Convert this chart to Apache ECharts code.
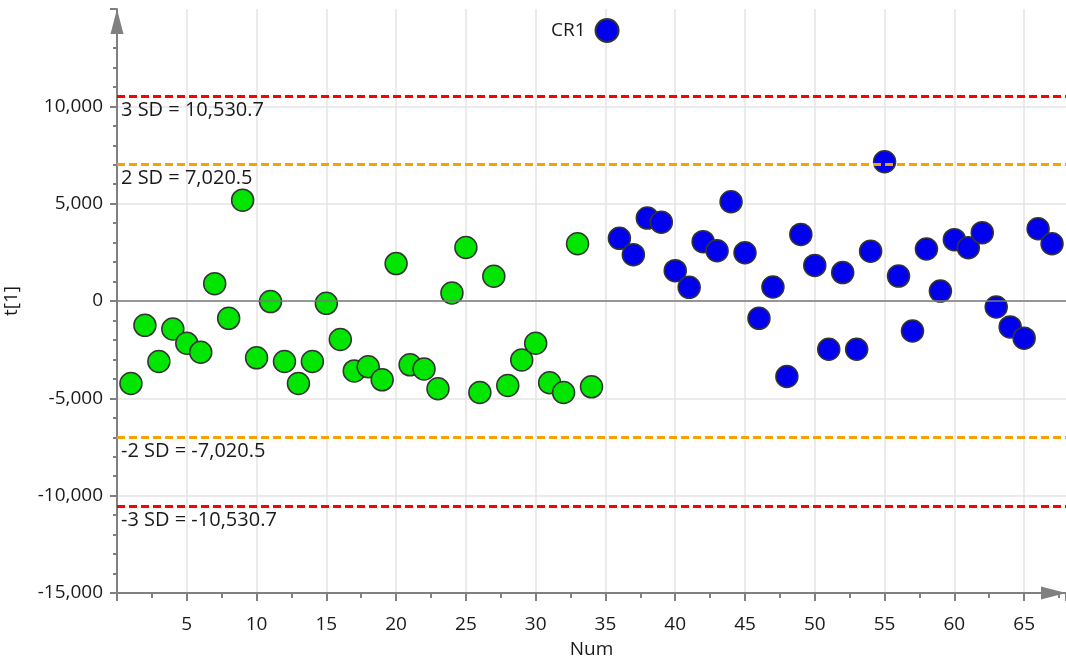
<!DOCTYPE html>
<html>
<head>
<meta charset="utf-8">
<script src="https://cdn.jsdelivr.net/npm/echarts@6/dist/echarts.min.js"></script>
<style>
  html, body { margin: 0; padding: 0; background: #fff; }
  #chart { width: 1066px; height: 661px; }
</style>
</head>
<body>
<div id="chart"></div>
<script>
// Observation numbers and t[1] scores
const greenNum = [1, 2, 3, 4, 5, 6, 7, 8, 9, 10, 11, 12, 13, 14, 15, 16, 17,
  18, 19, 20, 21, 22, 23, 24, 25, 26, 27, 28, 29, 30, 31, 32, 33, 34];
const greenT1 = [-4240, -1250, -3110, -1440, -2170, -2630, 890, -890, 5180, -2920,
  -30, -3110, -4240, -3110, -120, -1980, -3590, -3380, -4050, 1920,
  -3280, -3490, -4510, 410, 2750, -4700, 1270, -4340, -3030, -2170,
  -4200, -4700, 2940, -4410];

const cr1Num = [36, 37, 38, 39, 40, 41, 42, 43, 44, 45, 46, 47, 48, 49, 50, 51,
  52, 53, 54, 55, 56, 57, 58, 59, 60, 61, 62, 63, 64, 65, 66, 67];
const cr1T1 = [3220, 2380, 4260, 4050, 1560, 700, 3050, 2580, 5100, 2480,
  -890, 720, -3880, 3420, 1830, -2480, 1460, -2480, 2560, 7150,
  1280, -1540, 2670, 510, 3150, 2740, 3510, -310, -1330, -1910,
  3710, 2940];

// Control limits
const sdLevels = [3, 2, -2, -3];
const sdValues = [10530.7, 7020.5, -7020.5, -10530.7];
const sdColors = ['#ff0000', '#f5a300', '#f5a300', '#ff0000'];

// Axis ticks
const xTicks = { min: 0, max: 68, interval: 5 };
const yTicks = { min: -15000, max: 15000, interval: 5000 };

const FONT = 'Open Sans';
const AXIS_COLOR = '#808080';
const TEXT_COLOR = '#1a1a1a';

const zip = (xs, ys) => xs.map((x, i) => [x, ys[i]]);
const fmt = v => v.toLocaleString('en-US', { minimumFractionDigits: 1, maximumFractionDigits: 1 });

const limitLines = sdValues.map((v, i) => ({
  yAxis: v,
  lineStyle: { color: sdColors[i], type: [8, 4], width: 3 },
  label: {
    show: true,
    position: 'insideStartBottom',
    formatter: sdLevels[i] + ' SD = ' + fmt(v),
    color: TEXT_COLOR,
    fontFamily: FONT,
    fontSize: 20,
    distance: [4, 4]
  }
}));

const zeroLine = {
  yAxis: 0,
  lineStyle: { color: '#7a7a7a', type: 'solid', width: 1.5 },
  label: { show: false }
};

const chart = echarts.init(document.getElementById('chart'), null, { renderer: 'canvas' });

chart.setOption({
  animation: false,
  backgroundColor: '#ffffff',
  textStyle: { fontFamily: FONT },
  grid: { left: 117, right: 0, top: 9, bottom: 68, containLabel: false, outerBoundsMode: 'none' },
  legend: {
    data: ['CR1'],
    left: 546,
    top: 13,
    align: 'right',
    icon: 'circle',
    itemWidth: 23,
    itemHeight: 23,
    textStyle: { fontFamily: FONT, fontSize: 19, color: TEXT_COLOR, padding: [0, 5, 0, 0] }
  },
  xAxis: {
    type: 'value',
    min: xTicks.min,
    max: xTicks.max,
    interval: xTicks.interval,
    name: 'Num',
    nameLocation: 'middle',
    nameGap: 47,
    nameTextStyle: { fontFamily: FONT, fontSize: 19, color: TEXT_COLOR },
    axisLine: {
      show: true,
      onZero: false,
      symbol: ['none', 'triangle'],
      symbolSize: [13, 25],
      symbolOffset: [0, -12.5],
      lineStyle: { color: AXIS_COLOR, width: 2 }
    },
    axisTick: { show: true, length: 8, lineStyle: { color: AXIS_COLOR, width: 2 } },
    minorTick: { show: true, splitNumber: 2, length: 5, lineStyle: { color: AXIS_COLOR, width: 2 } },
    axisLabel: {
      showMinLabel: false,
      showMaxLabel: false,
      margin: 22,
      fontFamily: FONT,
      fontSize: 19,
      color: TEXT_COLOR
    },
    splitLine: {
      show: true,
      showMinLine: false,
      showMaxLine: false,
      lineStyle: { color: '#e4e4e4', width: 1.5 }
    }
  },
  yAxis: {
    type: 'value',
    min: yTicks.min,
    max: yTicks.max,
    interval: yTicks.interval,
    name: 't[1]',
    nameLocation: 'middle',
    nameGap: 96,
    nameTextStyle: { fontFamily: FONT, fontSize: 19, color: TEXT_COLOR },
    axisLine: {
      show: true,
      onZero: false,
      symbol: ['none', 'triangle'],
      symbolSize: [13, 25],
      symbolOffset: [0, -12.5],
      lineStyle: { color: AXIS_COLOR, width: 2 }
    },
    axisTick: { show: true, length: 7, lineStyle: { color: AXIS_COLOR, width: 2 } },
    minorTick: { show: true, splitNumber: 5, length: 4, lineStyle: { color: AXIS_COLOR, width: 2 } },
    axisLabel: {
      showMaxLabel: false,
      margin: 14,
      fontFamily: FONT,
      fontSize: 19,
      color: TEXT_COLOR,
      formatter: v => v.toLocaleString('en-US')
    },
    splitLine: {
      show: true,
      showMinLine: false,
      showMaxLine: false,
      lineStyle: { color: '#e4e4e4', width: 1.5 }
    }
  },
  series: [
    {
      type: 'scatter',
      data: zip(greenNum, greenT1),
      symbol: 'circle',
      symbolSize: 22,
      itemStyle: { color: '#00e600', borderColor: '#333333', borderWidth: 1.5, opacity: 1 },
      markLine: {
        silent: true,
        symbol: 'none',
        animation: false,
        data: [zeroLine].concat(limitLines)
      },
      z: 3
    },
    {
      name: 'CR1',
      type: 'scatter',
      data: zip(cr1Num, cr1T1),
      symbol: 'circle',
      symbolSize: 22,
      itemStyle: { color: '#0000ee', borderColor: '#333333', borderWidth: 1.5, opacity: 1 },
      z: 4
    }
  ]
});
</script>
</body>
</html>
